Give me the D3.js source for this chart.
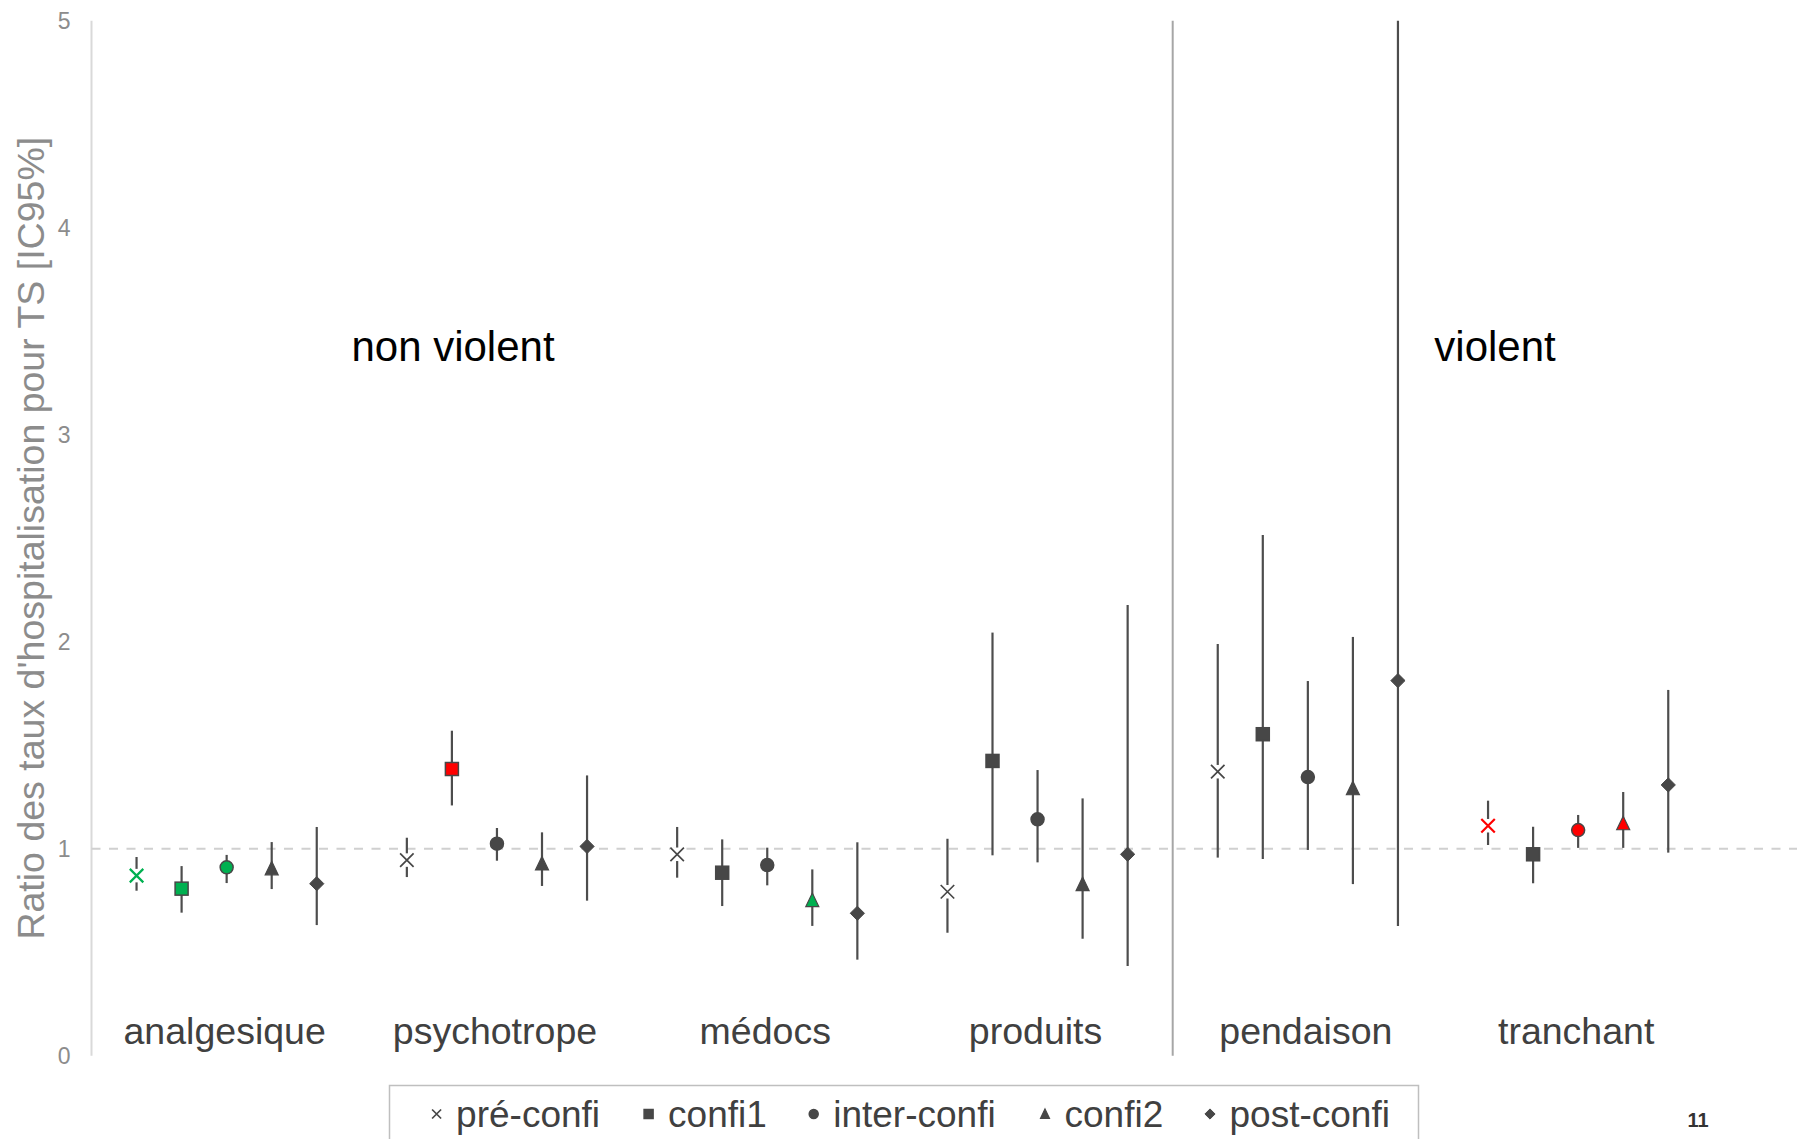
<!DOCTYPE html>
<html>
<head>
<meta charset="utf-8">
<script src="https://cdn.jsdelivr.net/npm/d3@7"></script>
<style>
  html, body { margin: 0; padding: 0; background: #fff; }
  svg { display: block; font-family: "Liberation Sans", Arial, sans-serif; }
</style>
</head>
<body>
<svg id="chart" width="1797" height="1139"></svg>
<script>
// ---------- data ----------
const categories = ["analgesique", "psychotrope", "médocs", "produits", "pendaison", "tranchant"];
const groups = ["non violent", "violent"];
const categoryGroup = ["non violent", "non violent", "non violent", "non violent", "violent", "violent"];
const series = ["pré-confi", "confi1", "inter-confi", "confi2", "post-confi"];
const yTicks = [0, 1, 2, 3, 4, 5];
const referenceValue = 1;

// point estimate per category (rows) x series (columns)
const estimate = [
  [0.870, 0.807, 0.910, 0.905, 0.831],
  [0.945, 1.385, 1.024, 0.929, 1.011],
  [0.973, 0.884, 0.921, 0.752, 0.688],
  [0.792, 1.424, 1.142, 0.829, 0.973],
  [1.372, 1.553, 1.346, 1.292, 1.812],
  [1.111, 0.973, 1.090, 1.123, 1.308]
];
const lower = [
  [0.797, 0.691, 0.834, 0.805, 0.631],
  [0.863, 1.209, 0.942, 0.820, 0.749],
  [0.860, 0.723, 0.823, 0.627, 0.464],
  [0.594, 0.968, 0.934, 0.565, 0.433],
  [0.957, 0.950, 0.994, 0.829, 0.627],
  [1.018, 0.833, 1.004, 1.004, 0.981]
];
const upper = [
  [0.960, 0.916, 0.970, 1.032, 1.105],
  [1.053, 1.570, 1.100, 1.079, 1.354],
  [1.105, 1.045, 1.005, 0.900, 1.031],
  [1.048, 2.044, 1.380, 1.243, 2.177],
  [1.989, 2.515, 1.810, 2.023, 5.000],
  [1.232, 1.106, 1.163, 1.274, 1.767]
];

// ---------- setup ----------
const svg = d3.select("#chart");
const W = 1797, H = 1139;
const DARK = "#474747";
const GREEN = "#00b050";
const RED = "#ff0000";

const unit = 45.05;
const x0 = 91.5;
const x = d3.scaleLinear().domain([0, 36]).range([x0, x0 + 36 * unit]);
const y = d3.scaleLinear().domain([0, 5]).range([1055.7, 20.7]);

const band = d3.scaleBand().domain(categories).range([x(0), x(36)]).paddingInner(0).paddingOuter(0);
const inner = d3.scalePoint().domain(series).range([x(1) - x(0), x(5) - x(0)]);

// records
const points = [];
categories.forEach((c, i) => {
  series.forEach((s, j) => {
    points.push({ cat: c, ser: s, est: estimate[i][j], lo: lower[i][j], hi: upper[i][j] });
  });
});
function sigColor(d) {
  if (d.hi < referenceValue) return GREEN;
  if (d.lo > referenceValue) return RED;
  return null;
}
const px = d => band(d.cat) + inner(d.ser);

// ---------- axis ----------
svg.append("line")
  .attr("x1", x(0)).attr("x2", x(0))
  .attr("y1", y(5)).attr("y2", y(0))
  .attr("stroke", "#d9d9d9").attr("stroke-width", 2);

const yAxis = d3.axisLeft(y).tickValues(yTicks).tickSize(0).tickPadding(21).tickFormat(d3.format("d"));
const gy = svg.append("g").attr("transform", `translate(${x(0)},0)`).call(yAxis);
gy.select(".domain").remove();
gy.selectAll("text")
  .attr("fill", "#8c8c8c")
  .style("font-size", "23px")
  .style("font-family", "'Liberation Sans', Arial, sans-serif");

svg.append("text")
  .attr("transform", `translate(31,${(y(0) + y(5)) / 2}) rotate(-90)`)
  .attr("text-anchor", "middle")
  .attr("dominant-baseline", "central")
  .attr("fill", "#8c8c8c")
  .style("font-size", "37.5px")
  .text("Ratio des taux d'hospitalisation pour TS [IC95%]");

// reference line at 1
svg.append("line")
  .attr("x1", x(0)).attr("x2", W)
  .attr("y1", y(referenceValue)).attr("y2", y(referenceValue))
  .attr("stroke", "#d0d0d0").attr("stroke-width", 2)
  .attr("stroke-dasharray", "9,8.5");

// separator between groups
const firstViolent = categories[categoryGroup.indexOf("violent")];
svg.append("line")
  .attr("x1", band(firstViolent)).attr("x2", band(firstViolent))
  .attr("y1", y(5)).attr("y2", y(0))
  .attr("stroke", "#a6a6a6").attr("stroke-width", 2);

// group labels
const groupLabelX = { "non violent": 453, "violent": 1495 };
groups.forEach(g => {
  svg.append("text")
    .attr("x", groupLabelX[g]).attr("y", 361)
    .attr("text-anchor", "middle")
    .attr("fill", "#000")
    .style("font-size", "42px")
    .text(g);
});

// category labels
svg.selectAll("text.cat").data(categories).join("text")
  .attr("class", "cat")
  .attr("x", d => band(d) + band.bandwidth() / 2 - 2)
  .attr("y", 1044)
  .attr("text-anchor", "middle")
  .attr("fill", "#404040")
  .style("font-size", "37.5px")
  .text(d => d);

// ---------- error bars ----------
svg.selectAll("line.err").data(points).join("line")
  .attr("class", "err")
  .attr("x1", px).attr("x2", px)
  .attr("y1", d => y(Math.min(d.hi, 5))).attr("y2", d => y(d.lo))
  .attr("stroke", "#4d4d4d").attr("stroke-width", 2.2);

// ---------- markers ----------
function drawMarker(g, ser, size, fill, isColored) {
  const h = size / 2;
  if (ser === "pré-confi") {
    g.append("rect").attr("x", -h).attr("y", -h).attr("width", size).attr("height", size).attr("fill", "#fff");
    g.append("path")
      .attr("d", `M${-h},${-h}L${h},${h}M${-h},${h}L${h},${-h}`)
      .attr("stroke", isColored ? fill : DARK)
      .attr("stroke-width", isColored ? 2.2 : 1.7)
      .attr("fill", "none");
  } else if (ser === "confi1") {
    g.append("rect").attr("x", -h).attr("y", -h).attr("width", size).attr("height", size)
      .attr("fill", fill).attr("stroke", DARK).attr("stroke-width", 1.5);
  } else if (ser === "inter-confi") {
    g.append("circle").attr("r", h)
      .attr("fill", fill).attr("stroke", DARK).attr("stroke-width", 1.5);
  } else if (ser === "confi2") {
    g.append("path").attr("d", `M0,${-h - 0.5}L${h},${h}L${-h},${h}Z`)
      .attr("fill", fill).attr("stroke", DARK).attr("stroke-width", 1.2);
  } else {
    const r = h + 0.6;
    g.append("path").attr("d", `M0,${-r}L${r},0L0,${r}L${-r},0Z`)
      .attr("fill", fill).attr("stroke", DARK).attr("stroke-width", 1);
  }
}

points.forEach(d => {
  const c = sigColor(d);
  const g = svg.append("g").attr("transform", `translate(${px(d)},${y(d.est)})`);
  drawMarker(g, d.ser, d.ser === "pré-confi" ? 13.5 : 13, c || DARK, !!c);
});

// ---------- legend ----------
svg.append("rect")
  .attr("x", 389.5).attr("y", 1085.5)
  .attr("width", 1029).attr("height", 80)
  .attr("fill", "#fff").attr("stroke", "#bfbfbf").attr("stroke-width", 1.5);

const legendStart = [436.6, 648.6, 813.7, 1045, 1210];
const ly = 1114;
series.forEach((s, i) => {
  const lx = legendStart[i];
  const g = svg.append("g").attr("transform", `translate(${lx},${ly})`);
  drawMarker(g, s, 9, DARK, false);
  svg.append("text")
    .attr("x", lx + 19.5).attr("y", ly + 12.5)
    .attr("fill", "#404040")
    .style("font-size", "37px")
    .text(s);
});

// page number
svg.append("text")
  .attr("x", 1698).attr("y", 1127)
  .attr("text-anchor", "middle")
  .attr("fill", "#333")
  .style("font-size", "20px")
  .style("font-weight", "bold")
  .text("11");
</script>
</body>
</html>
